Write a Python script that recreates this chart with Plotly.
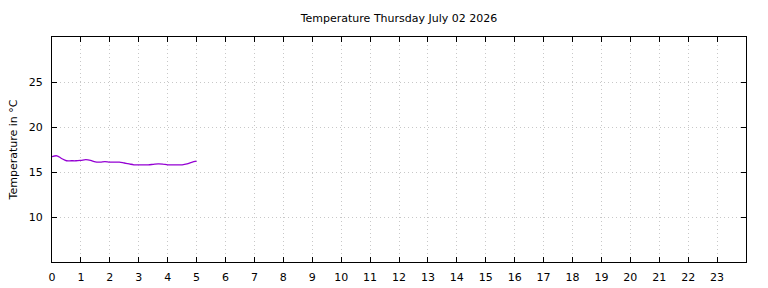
import plotly.graph_objects as go

hours = [0.0, 0.17, 0.33, 0.5, 0.67, 0.83, 1.0, 1.17, 1.33, 1.5, 1.67, 1.83, 2.0, 2.17, 2.33,
         2.5, 2.67, 2.83, 3.0, 3.17, 3.33, 3.5, 3.67, 3.83, 4.0, 4.17, 4.33, 4.5, 4.67, 4.83, 5.0]
temps = [16.7, 16.8, 16.5, 16.25, 16.25, 16.25, 16.3, 16.37, 16.3, 16.12, 16.1, 16.15, 16.1, 16.1, 16.1,
         16.0, 15.9, 15.8, 15.8, 15.8, 15.8, 15.85, 15.9, 15.88, 15.8, 15.8, 15.8, 15.8, 15.9, 16.08, 16.2]
x_ticks = list(range(0, 24))
y_ticks = [10, 15, 20, 25]
title_text = "Temperature Thursday July 02 2026"
y_title = "Temperature in °C"

fig = go.Figure()
fig.add_trace(go.Scatter(x=hours, y=temps, mode="lines",
                         line=dict(color="#9400d3", width=1.3, shape="spline"),
                         showlegend=False, hoverinfo="skip"))

font = "DejaVu Sans, sans-serif"
fig.update_layout(
    width=768, height=288,
    margin=dict(l=52, r=22, t=37, b=26, autoexpand=False),
    paper_bgcolor="white", plot_bgcolor="white",
    font=dict(family=font, size=11, color="#000000"),
    title=dict(text=title_text, x=(52 + 746) / 2 / 768, xanchor="center",
               y=1 - 18 / 288, yanchor="middle", font=dict(size=11)),
)
fig.update_xaxes(range=[0, 24], tickvals=x_ticks, ticktext=[str(v) for v in x_ticks],
                 showline=True, linecolor="black", linewidth=1, mirror="allticks",
                 ticks="inside", ticklen=5, tickcolor="black", tickwidth=1,
                 showgrid=True, gridcolor="#c8c8c8", griddash="1px,3px", gridwidth=1,
                 zeroline=False, tickfont=dict(size=11), ticklabelstandoff=5,
                 automargin=False)
fig.update_yaxes(range=[5, 30], tickvals=y_ticks, ticktext=[str(v) for v in y_ticks],
                 showline=True, linecolor="black", linewidth=1, mirror="allticks",
                 ticks="inside", ticklen=5, tickcolor="black", tickwidth=1,
                 showgrid=True, gridcolor="#c8c8c8", griddash="1px,3px", gridwidth=1,
                 zeroline=False, tickfont=dict(size=11), ticklabelstandoff=6,
                 automargin=False,
                 title=dict(text=y_title, font=dict(size=11), standoff=8))

fig.write_html("out.html")
